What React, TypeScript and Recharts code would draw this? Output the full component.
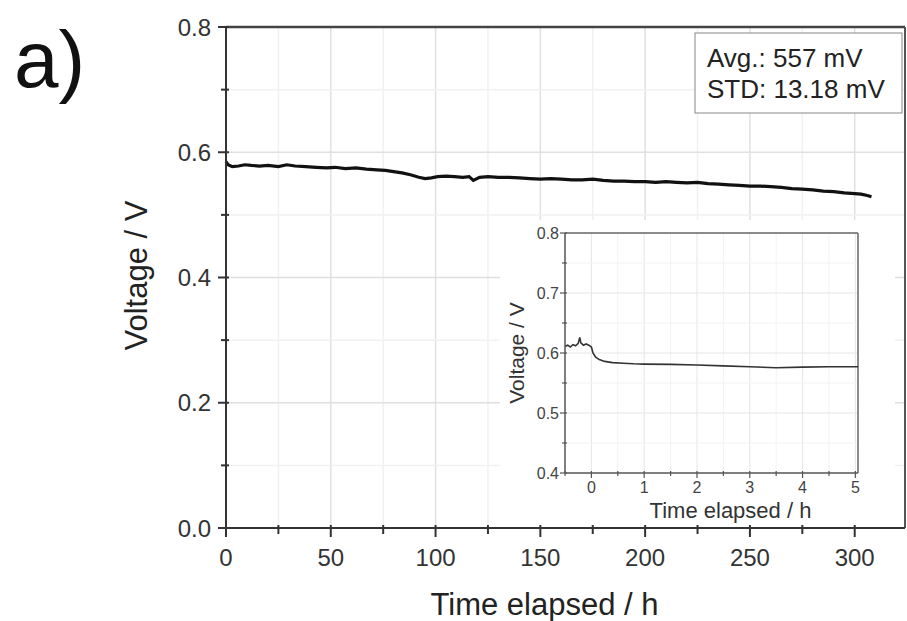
import React from 'react';
import { ComposedChart, Line, XAxis, YAxis, ReferenceLine, Label } from 'recharts';

// main run, 0-308 h
const mainTime = [0, 1, 3, 6, 9, 12, 16, 20, 25, 29, 33, 38, 43, 48, 52, 57, 62, 67, 72, 76, 80, 84, 88, 92, 95, 98, 101, 105, 109, 113, 116, 118, 121, 125, 130, 135, 140, 145, 150, 155, 160, 165, 170, 175, 180, 185, 190, 195, 200, 205, 210, 215, 220, 225, 230, 235, 240, 245, 250, 255, 260, 265, 270, 275, 280, 285, 290, 295, 300, 303, 306, 308];
const mainVoltage = [0.585, 0.580, 0.577, 0.578, 0.580, 0.579, 0.578, 0.579, 0.577, 0.580, 0.578, 0.577, 0.576, 0.575, 0.576, 0.574, 0.575, 0.573, 0.572, 0.571, 0.569, 0.567, 0.564, 0.560, 0.558, 0.559, 0.561, 0.562, 0.561, 0.560, 0.561, 0.555, 0.560, 0.561, 0.560, 0.560, 0.559, 0.558, 0.557, 0.558, 0.557, 0.556, 0.556, 0.557, 0.555, 0.554, 0.554, 0.553, 0.553, 0.552, 0.553, 0.552, 0.551, 0.552, 0.550, 0.549, 0.548, 0.547, 0.546, 0.546, 0.545, 0.544, 0.542, 0.541, 0.540, 0.538, 0.537, 0.535, 0.534, 0.533, 0.531, 0.529];

// inset, first hours
const insetTime = [-0.5, -0.45, -0.4, -0.35, -0.3, -0.25, -0.22, -0.2, -0.15, -0.1, -0.05, 0, 0.03, 0.08, 0.15, 0.25, 0.4, 0.6, 0.8, 1.0, 1.5, 2.0, 2.5, 3.0, 3.5, 4.0, 4.5, 5.0, 5.05];
const insetVoltage = [0.611, 0.613, 0.610, 0.614, 0.612, 0.616, 0.626, 0.617, 0.613, 0.615, 0.613, 0.610, 0.600, 0.593, 0.589, 0.586, 0.584, 0.583, 0.582, 0.5815, 0.581, 0.580, 0.5785, 0.577, 0.5755, 0.5765, 0.577, 0.577, 0.577];

const mainXTicks = [0, 25, 50, 75, 100, 125, 150, 175, 200, 225, 250, 275, 300];
const mainYTicks = [0, 0.1, 0.2, 0.3, 0.4, 0.5, 0.6, 0.7, 0.8];
const insetXTicks = [-0.5, 0, 0.5, 1, 1.5, 2, 2.5, 3, 3.5, 4, 4.5, 5];
const insetYTicks = [0.4, 0.45, 0.5, 0.55, 0.6, 0.65, 0.7, 0.75, 0.8];

const avgText = 'Avg.: 557 mV';
const stdText = 'STD: 13.18 mV';

const mainData = mainTime.map((t, i) => ({ t, v: mainVoltage[i] }));
const insetData = insetTime.map((t, i) => ({ t, v: insetVoltage[i] }));

const font = 'Arial, "Liberation Sans", sans-serif';
const isMajorX = (v: number) => v % 50 === 0;
const isMajorY = (v: number) => Math.round(v * 10) % 2 === 0;

const MainXTick = (props: any) => {
  const { x, y, payload } = props;
  const major = isMajorX(payload.value);
  return (
    <g>
      <line x1={x} x2={x} y1={y - 3} y2={y + (major ? 9 : 6)} stroke="#333" strokeWidth={2} />
      {major && (
        <text x={x} y={y + 38} textAnchor="middle" fontSize={24} fontFamily={font} fill="#333">
          {payload.value}
        </text>
      )}
    </g>
  );
};

const MainYTick = (props: any) => {
  const { x, y, payload } = props;
  const major = isMajorY(payload.value);
  return (
    <g>
      <line x1={x - (major ? 8 : 5)} x2={x + 3} y1={y} y2={y} stroke="#333" strokeWidth={2} />
      {major && (
        <text x={x - 15} y={y + 8.5} textAnchor="end" fontSize={24} fontFamily={font} fill="#333">
          {payload.value.toFixed(1)}
        </text>
      )}
    </g>
  );
};

const InsetXTick = (props: any) => {
  const { x, y, payload } = props;
  const major = Number.isInteger(payload.value);
  return (
    <g>
      <line x1={x} x2={x} y1={y - 2} y2={y + (major ? 5 : 3)} stroke="#555" strokeWidth={1.2} />
      {major && (
        <text x={x} y={y + 20} textAnchor="middle" fontSize={16} fontFamily={font} fill="#444">
          {payload.value}
        </text>
      )}
    </g>
  );
};

const InsetYTick = (props: any) => {
  const { x, y, payload } = props;
  const major = Math.round(payload.value * 100) % 10 === 0;
  return (
    <g>
      <line x1={x - (major ? 5 : 3)} x2={x + 2} y1={y} y2={y} stroke="#555" strokeWidth={1.2} />
      {major && (
        <text x={x - 6} y={y + 5.5} textAnchor="end" fontSize={16} fontFamily={font} fill="#444">
          {payload.value.toFixed(1)}
        </text>
      )}
    </g>
  );
};

export default function App() {
  return (
    <div style={{ position: 'absolute', left: 0, top: 0, width: 907, height: 621, background: '#fff' }}>
      <ComposedChart width={907} height={621} data={mainData} margin={{ top: 27, right: 2, bottom: 0, left: 0 }}>
        <XAxis
          type="number"
          dataKey="t"
          domain={[0, 324]}
          ticks={mainXTicks}
          interval={0}
          height={93}
          tickSize={0}
          tickMargin={0}
          tickLine={false}
          tick={<MainXTick />}
          axisLine={{ stroke: '#333', strokeWidth: 2 }}
        >
          <Label
            content={(p: any) => (
              <text x={p.viewBox.x + p.viewBox.width / 2 - 21} y={p.viewBox.y + 87} textAnchor="middle" fontSize={31} fontFamily={font} fill="#222">
                Time elapsed / h
              </text>
            )}
          />
        </XAxis>
        <YAxis
          type="number"
          domain={[0, 0.8]}
          ticks={mainYTicks}
          interval={0}
          width={226}
          tickSize={0}
          tickMargin={0}
          tickLine={false}
          tick={<MainYTick />}
          axisLine={{ stroke: '#333', strokeWidth: 2 }}
        >
          <Label
            content={(p: any) => {
              const cx = 147;
              const cy = p.viewBox.y + p.viewBox.height / 2 - 2;
              return (
                <text x={cx} y={cy} transform={`rotate(-90, ${cx}, ${cy})`} textAnchor="middle" fontSize={31} fontFamily={font} fill="#222">
                  Voltage / V
                </text>
              );
            }}
          />
        </YAxis>
        {mainXTicks.filter((v) => v > 0).map((v) => (
          <ReferenceLine key={'gx' + v} x={v} stroke={isMajorX(v) ? '#e0e0e0' : '#f1f1f1'} strokeWidth={1.5} />
        ))}
        {mainYTicks.filter((v) => v > 0 && v < 0.8).map((v) => (
          <ReferenceLine key={'gy' + v} y={v} stroke={isMajorY(v) ? '#e0e0e0' : '#f1f1f1'} strokeWidth={1.5} />
        ))}
        <ReferenceLine y={0.8} stroke="#444" strokeWidth={2.5} />
        <ReferenceLine x={324} stroke="#555" strokeWidth={2} />
        <Line type="linear" dataKey="v" stroke="#111" strokeWidth={3.2} dot={false} isAnimationActive={false} />
      </ComposedChart>

      {/* panel letter and stats box, drawn above the grid */}
      <svg width={907} height={130} style={{ position: 'absolute', left: 0, top: 0, pointerEvents: 'none' }}>
        <g fontFamily={font}>
          <text x={14} y={87} fontSize={80} fill="#111">a)</text>
          <rect x={695} y={33} width={207} height={80} fill="#fff" stroke="#888" strokeWidth={1} />
          <text x={707} y={67} fontSize={26} fill="#222">{avgText}</text>
          <text x={707} y={98} fontSize={26} fill="#222">{stdText}</text>
        </g>
      </svg>

      <div style={{ position: 'absolute', left: 500, top: 220, width: 395, height: 305, background: '#fff' }}>
        <ComposedChart width={395} height={305} data={insetData} margin={{ top: 13, right: 37, bottom: 0, left: 0 }}>
          <XAxis
            type="number"
            dataKey="t"
            domain={[-0.5, 5.05]}
            ticks={insetXTicks}
            interval={0}
            height={52}
            tickSize={0}
            tickMargin={0}
            tickLine={false}
            tick={<InsetXTick />}
            axisLine={{ stroke: '#555', strokeWidth: 1.5 }}
            allowDataOverflow
          >
            <Label
              content={(p: any) => (
                <text x={p.viewBox.x + p.viewBox.width / 2 + 19} y={p.viewBox.y + 45} textAnchor="middle" fontSize={22} fontFamily={font} fill="#333">
                  Time elapsed / h
                </text>
              )}
            />
          </XAxis>
          <YAxis
            type="number"
            domain={[0.4, 0.8]}
            ticks={insetYTicks}
            interval={0}
            width={65}
            tickSize={0}
            tickMargin={0}
            tickLine={false}
            tick={<InsetYTick />}
            axisLine={{ stroke: '#555', strokeWidth: 1.5 }}
          >
            <Label
              content={(p: any) => {
                const cx = 24;
                const cy = p.viewBox.y + p.viewBox.height / 2;
                return (
                  <text x={cx} y={cy} transform={`rotate(-90, ${cx}, ${cy})`} textAnchor="middle" fontSize={21} fontFamily={font} fill="#333">
                    Voltage / V
                  </text>
                );
              }}
            />
          </YAxis>
          {insetXTicks.filter((v) => v > -0.5).map((v) => (
            <ReferenceLine key={'ix' + v} x={v} stroke={Number.isInteger(v) ? '#e6e6e6' : '#f3f3f3'} strokeWidth={1} />
          ))}
          {insetYTicks.filter((v) => v > 0.4 && v < 0.8).map((v) => (
            <ReferenceLine key={'iy' + v} y={v} stroke={Math.round(v * 100) % 10 === 0 ? '#e6e6e6' : '#f3f3f3'} strokeWidth={1} />
          ))}
          <ReferenceLine y={0.8} stroke="#666" strokeWidth={1.5} />
          <ReferenceLine x={5.05} stroke="#666" strokeWidth={1.5} />
          <Line type="linear" dataKey="v" stroke="#333" strokeWidth={1.6} dot={false} isAnimationActive={false} />
        </ComposedChart>
      </div>
    </div>
  );
}
